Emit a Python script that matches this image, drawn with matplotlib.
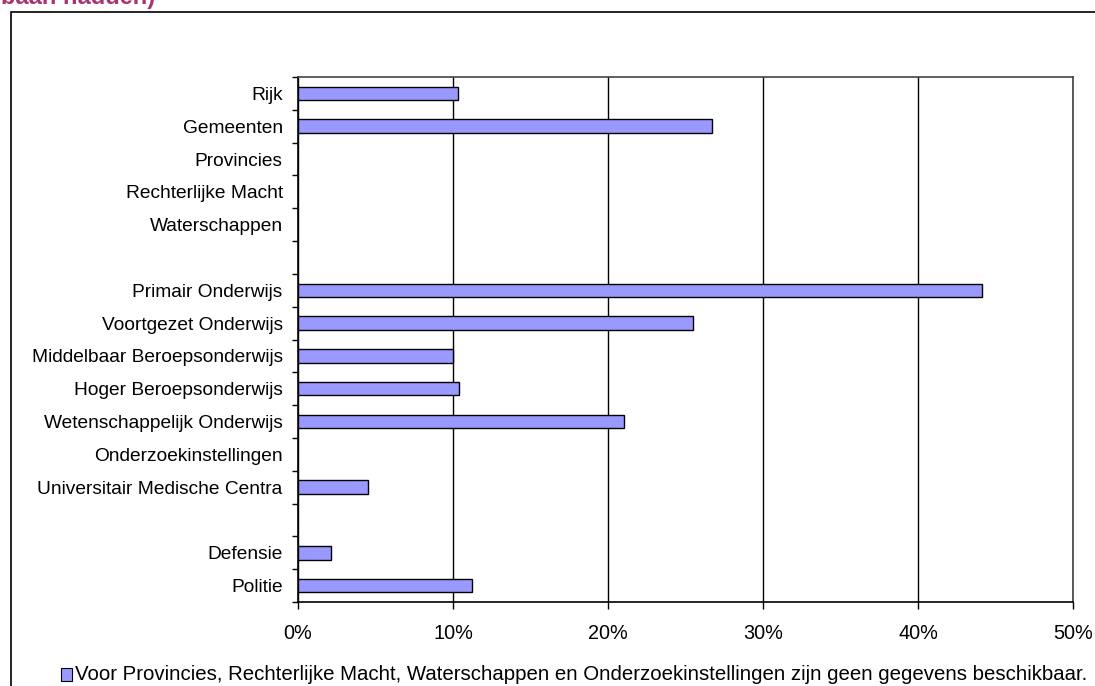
import numpy as np
import matplotlib.pyplot as plt
from matplotlib.patches import Rectangle

plt.rcParams['font.family'] = ['Liberation Sans', 'DejaVu Sans']

# sectoren van boven naar onder, lege strings zijn witregels tussen de groepen
categories = ["Rijk", "Gemeenten", "Provincies", "Rechterlijke Macht", "Waterschappen", "",
              "Primair Onderwijs", "Voortgezet Onderwijs", "Middelbaar Beroepsonderwijs",
              "Hoger Beroepsonderwijs", "Wetenschappelijk Onderwijs", "Onderzoekinstellingen",
              "Universitair Medische Centra", "", "Defensie", "Politie"]
# percentages, None = geen gegevens
values = [10.3, 26.7, None, None, None, None,
          44.1, 25.5, 10.0, 10.4, 21.0, None,
          4.5, None, 2.1, 11.2]
x_ticks = [0, 10, 20, 30, 40, 50]
legend_text = ("Voor Provincies, Rechterlijke Macht, Waterschappen en "
               "Onderzoekinstellingen zijn geen gegevens beschikbaar.")

fig = plt.figure(figsize=(10.95, 6.86), dpi=100)
ax = fig.add_axes([298 / 1095, 1 - 602 / 686, 775 / 1095, 525 / 686])

n = len(categories)
pos = np.arange(n)
for p, v in zip(pos, values):
    if v is None:
        continue
    ax.barh(p, v, height=0.41, color='#9999FF', edgecolor='black', linewidth=1.0, zorder=3)

ax.set_ylim(n - 0.5, -0.5)
ax.set_xlim(0, 50)

ax.set_yticks(pos)
ax.set_yticklabels(categories, fontsize=13.8)
ax.set_yticks(np.arange(n + 1) - 0.5, minor=True)
ax.tick_params(axis='y', which='major', length=0, pad=11)
ax.tick_params(axis='y', which='minor', length=4, width=1, direction='out')

ax.set_xticks(x_ticks)
ax.set_xticklabels([f"{t}%" for t in x_ticks], fontsize=14.3)
ax.tick_params(axis='x', length=5, width=1, direction='out', pad=11)
ax.xaxis.grid(True, color='black', linewidth=1, zorder=0)

for side in ['left', 'bottom']:
    ax.spines[side].set_color('black')
    ax.spines[side].set_linewidth(1.2)
for side in ['top', 'right']:
    ax.spines[side].set_color('#444444')
    ax.spines[side].set_linewidth(1.2)

# kader om de hele grafiek
fig.patches.append(Rectangle((11 / 1095, -0.05), 1.2, 1 - 12 / 686 + 0.05,
                             transform=fig.transFigure, fill=False,
                             edgecolor='black', linewidth=1.2))

# legenda onderaan
fig.patches.append(Rectangle((61 / 1095, 1 - 681 / 686), 11 / 1095, 13 / 686,
                             transform=fig.transFigure, facecolor='#9999FF',
                             edgecolor='black', linewidth=0.8))
fig.text(75 / 1095, 1 - 675 / 686, legend_text, fontsize=14.7, va='center', ha='left')

# restant van de titel bovenaan
fig.text(155 / 1095, 1 - 4 / 686, "baan hadden)", fontsize=17, fontweight='bold',
         color='#A8336E', ha='right', va='baseline')

fig.savefig('out.png', dpi=100)
